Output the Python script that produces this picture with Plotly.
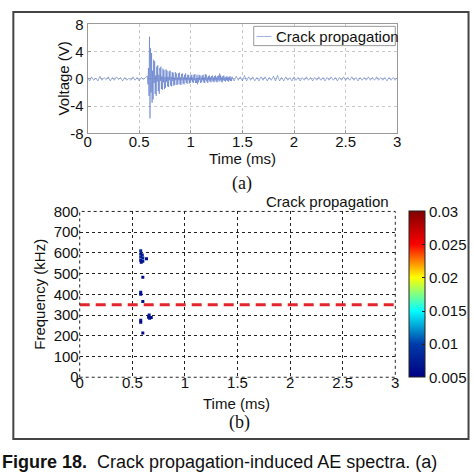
import numpy as np
import plotly.graph_objects as go

W, H = 474, 472

# ---------------- data ----------------
# (a) AE voltage waveform, hand-read peaks (V)
pre_start, pre_step = 0.0, 0.02
volt_pre = [0.2, -0.3, 0.3, -0.2, 0.1, -0.3, 0.4, -0.2, 0.2, -0.1, 0.3, -0.3, 0.2, -0.2,
            0.3, -0.1, 0.2, -0.3, 0.2, -0.2, 0.1, -0.2, 0.3, -0.2, 0.2, -0.3, 0.2, -0.1, 0.2]
burst_start, burst_step = 0.58, 0.005
volt_burst = [
    0.4, -0.8, 1.6, -2.5, 6.2, -5.8, 4.5, -2.0, 3.8, -3.5,
    1.2, -3.0, 2.8, -0.6, 2.6, -2.2, 0.5, -2.5, 1.8, -0.4,
    2.0, -1.8, 0.6, -2.2, 1.6, -0.3, 1.8, -1.5, 0.4, -1.6,
    1.5, -0.5, 1.3, -1.5, 0.3, -1.3, 1.4, -0.4, 1.2, -1.1,
    0.3, -1.2, 1.1, -0.2, 1.2, -1.0, 0.3, -1.1, 1.0, -0.3,
    0.9, -1.0, 0.2, -0.9, 1.0, -0.2, 0.8, -0.9, 0.2, -0.8,
    0.8, -0.2, 0.9, -0.8, 0.2, -0.9, 0.7, -0.2, 0.8, -0.7,
    0.2, -0.8, 0.6, -0.2, 0.8, -0.6, 0.2, -0.7, 0.6, -0.2,
    0.6, -0.7, 0.2, -0.6, 0.5, -0.2, 0.6, -0.5, 0.2, -0.6,
    0.6, -0.2, 0.7, -0.6, 0.1, -0.6, 0.6, -0.8, 0.2, -0.5,
    0.6, -0.2, 0.5, -0.6, 0.2, -0.5, 0.5, -0.2, 0.6, -0.5,
    0.2, -0.6, 0.7, -0.2, 0.6, -0.4, 0.2, -0.6, 0.4, -0.2,
    0.5, -0.4, 0.2, -0.5, 0.4, -0.2, 0.5, -0.4, 0.2, -0.5,
    0.4, -0.2, 0.5, -0.4, 0.2, -0.5, 0.4, -0.2, 0.5, -0.4,
    0.8, -0.2, 0.5, -0.4, 0.2, -0.5, 0.4, -0.2, 0.5, -0.3,
    0.2, -0.4, 0.3, -0.2, 0.4, -0.3, 0.2, -0.4, 0.3, -0.2,
    0.4, -0.3, 0.2, -0.3]
tail_start, tail_step = 1.40, 0.02
volt_tail = [
    0.3, -0.3, 0.4, -0.2, 0.3, -0.3, 0.5, -0.3, 0.3, -0.2,
    0.3, -0.3, 0.2, -0.3, 0.3, -0.2, 0.3, -0.3, 0.2, -0.2,
    0.4, -0.3, 0.5, -0.3, 0.2, -0.3, 0.3, -0.2, 0.2, -0.3,
    0.3, -0.2, 0.2, -0.3, 0.2, -0.2, 0.3, -0.2, 0.2, -0.3,
    0.2, -0.2, 0.3, -0.2, 0.2, -0.3, 0.2, -0.2, 0.3, -0.2,
    0.2, -0.3, 0.2, -0.2, 0.3, -0.2, 0.2, -0.2, 0.3, -0.2,
    0.2, -0.3, 0.2, -0.2, 0.2, -0.2, 0.3, -0.2, 0.2, -0.2,
    0.3, -0.2, 0.2, -0.2, 0.2, -0.3, 0.2, -0.2, 0.2, -0.2, 0.2]

# (b) spectrogram significant cells: time (ms), frequency (kHz), magnitude
spec_t = [0.58, 0.58, 0.58, 0.58, 0.585, 0.595, 0.60, 0.60, 0.635,
          0.58, 0.58, 0.60, 0.60,
          0.58, 0.58, 0.66, 0.655, 0.665, 0.68, 0.60]
spec_f = [610, 595, 580, 565, 555, 590, 575, 560, 572,
          410, 400, 482, 366,
          275, 265, 300, 290, 285, 288, 214]
spec_mag = [0.008, 0.007, 0.008, 0.007, 0.006, 0.007, 0.008, 0.007, 0.006,
            0.007, 0.006, 0.006, 0.006,
            0.007, 0.006, 0.007, 0.006, 0.007, 0.006, 0.006]
threshold_khz = [350, 350]
threshold_t = [0, 3]

x_ticks = [0, 0.5, 1, 1.5, 2, 2.5, 3]
x_ticktext = ["0", "0.5", "1", "1.5", "2", "2.5", "3"]
v_ticks = [-8, -4, 0, 4, 8]
v_ticktext = ["-8", "-4", "0", "4", "8"]
f_ticks = [0, 100, 200, 300, 400, 500, 600, 700, 800]
cb_ticks = [0.005, 0.01, 0.015, 0.02, 0.025, 0.03]
cb_ticktext = ["0.005", "0.01", "0.015", "0.02", "0.025", "0.03"]

# ---------------- build ----------------
t_pre = pre_start + pre_step * np.arange(len(volt_pre))
t_burst = burst_start + burst_step * np.arange(len(volt_burst))
t_tail = tail_start + tail_step * np.arange(len(volt_tail))
t_all = np.concatenate([t_pre, t_burst, t_tail])
v_all = np.array(volt_pre + volt_burst + volt_tail)

def px(x):
    return x / W

def py(y):
    return 1 - y / H

FONT = "Liberation Sans, Arial, sans-serif"
SERIF = "Liberation Serif, Times New Roman, serif"

fig = go.Figure()
fig.add_trace(go.Scatter(x=t_all, y=v_all, mode="lines",
                         line=dict(color="#5b77c9", width=0.6),
                         xaxis="x", yaxis="y", showlegend=False,
                         name="Crack propagation"))

fig.add_trace(go.Scatter(x=threshold_t, y=threshold_khz, mode="lines",
                         line=dict(color="#e3262b", width=3, dash="10px,6px"),
                         xaxis="x2", yaxis="y2", showlegend=False))

fig.add_trace(go.Scatter(
    x=spec_t, y=spec_f, mode="markers", xaxis="x2", yaxis="y2", showlegend=False,
    marker=dict(symbol="square", size=3, color=spec_mag, colorscale="Jet",
                cmin=0.005, cmax=0.03, showscale=True,
                colorbar=dict(x=px(412), xanchor="left", y=py(210), yanchor="top",
                              len=172 / H, lenmode="fraction", thickness=16,
                              thicknessmode="pixels",
                              outlinecolor="#222", outlinewidth=1,
                              tickvals=cb_ticks, ticktext=cb_ticktext,
                              ticks="inside", ticklen=3, tickcolor="#222",
                              tickfont=dict(family=FONT, size=15, color="#111"),
                              xpad=0, ypad=0))))

axis_font = dict(family=FONT, size=15, color="#111")

fig.update_layout(
    width=W, height=H, autosize=False,
    margin=dict(l=0, r=0, t=0, b=0),
    paper_bgcolor="white", plot_bgcolor="white",
    xaxis=dict(domain=[px(85), px(400)], range=[0, 3], anchor="y",
               tickvals=x_ticks, ticktext=x_ticktext, tickfont=axis_font,
               ticklabelstandoff=-5,
               showgrid=True, gridcolor="#c8c8c8", griddash="dot", gridwidth=1,
               showline=True, linecolor="#9a9a9a", linewidth=1, mirror=True,
               ticks="inside", ticklen=3, tickcolor="#9a9a9a", zeroline=False),
    yaxis=dict(domain=[py(129), py(16)], range=[-8, 8], anchor="x",
               tickvals=v_ticks, ticktext=v_ticktext, tickfont=axis_font,
               showgrid=True, gridcolor="#c8c8c8", griddash="dot", gridwidth=1,
               showline=True, linecolor="#9a9a9a", linewidth=1, mirror=True,
               ticks="inside", ticklen=3, tickcolor="#9a9a9a", zeroline=False),
    xaxis2=dict(domain=[px(77), px(398)], range=[0, 3], anchor="y2",
                tickvals=x_ticks, ticktext=x_ticktext, tickfont=axis_font,
                ticklabelstandoff=-5,
                showgrid=True, gridcolor="#222", griddash="dot", gridwidth=1,
                showline=False, zeroline=False, ticks=""),
    yaxis2=dict(domain=[py(382), py(210)], range=[0, 800], anchor="x2",
                tickvals=f_ticks, tickfont=axis_font,
                showgrid=True, gridcolor="#222", griddash="dot", gridwidth=1,
                showline=False, zeroline=False, ticks=""),
)

shapes = [
    # outer figure frame
    dict(type="rect", xref="paper", yref="paper", x0=px(9.5), x1=px(472.5),
         y0=py(446), y1=py(3), line=dict(color="#444", width=2)),
    # dotted border of bottom plot
    dict(type="rect", xref="x2 domain", yref="y2 domain", x0=0, x1=1, y0=0, y1=1,
         line=dict(color="#222", width=1, dash="dot")),
    # legend box
    dict(type="rect", xref="paper", yref="paper", x0=px(254), x1=px(398),
         y0=py(38), y1=py(18), line=dict(color="#9a9a9a", width=1),
         fillcolor="white", layer="above"),
    dict(type="line", xref="paper", yref="paper", x0=px(257), x1=px(272),
         y0=py(28.5), y1=py(28.5), line=dict(color="#9fb0e0", width=1),
         layer="above"),
]
fig.update_layout(shapes=shapes)

ann = [
    dict(text="Crack propagation", x=px(275), y=py(28.5), xanchor="left", yanchor="middle",
         font=dict(family=FONT, size=15, color="#111")),
    dict(text="Voltage (V)", x=px(60), y=py(72), textangle=-90, xanchor="center",
         yanchor="middle", font=dict(family=FONT, size=15, color="#111")),
    dict(text="Time (ms)", x=px(243), y=py(155), xanchor="center", yanchor="middle",
         font=dict(family=FONT, size=15, color="#111")),
    dict(text="(a)", x=px(242), y=py(181), xanchor="center", yanchor="middle",
         font=dict(family=SERIF, size=18, color="#111")),
    dict(text="Crack propagation", x=px(329), y=py(200), xanchor="center", yanchor="middle",
         font=dict(family=FONT, size=15, color="#111")),
    dict(text="Frequency (kHz)", x=px(36), y=py(296), textangle=-90, xanchor="center",
         yanchor="middle", font=dict(family=FONT, size=15, color="#111")),
    dict(text="Time (ms)", x=px(236), y=py(409), xanchor="center", yanchor="middle",
         font=dict(family=FONT, size=15, color="#111")),
    dict(text="(b)", x=px(240), y=py(429), xanchor="center", yanchor="middle",
         font=dict(family=SERIF, size=18, color="#111")),
    dict(text="<b>Figure 18.</b>  Crack propagation-induced AE spectra. (a)",
         x=px(-4), y=py(457), xanchor="left", yanchor="top",
         font=dict(family=FONT, size=18, color="#111")),
]
for a in ann:
    a.update(xref="paper", yref="paper", showarrow=False)
fig.update_layout(annotations=ann)

fig.write_html("out.html", config={"displayModeBar": False},
               post_script="document.body.style.margin='0';document.body.style.overflow='hidden';")
